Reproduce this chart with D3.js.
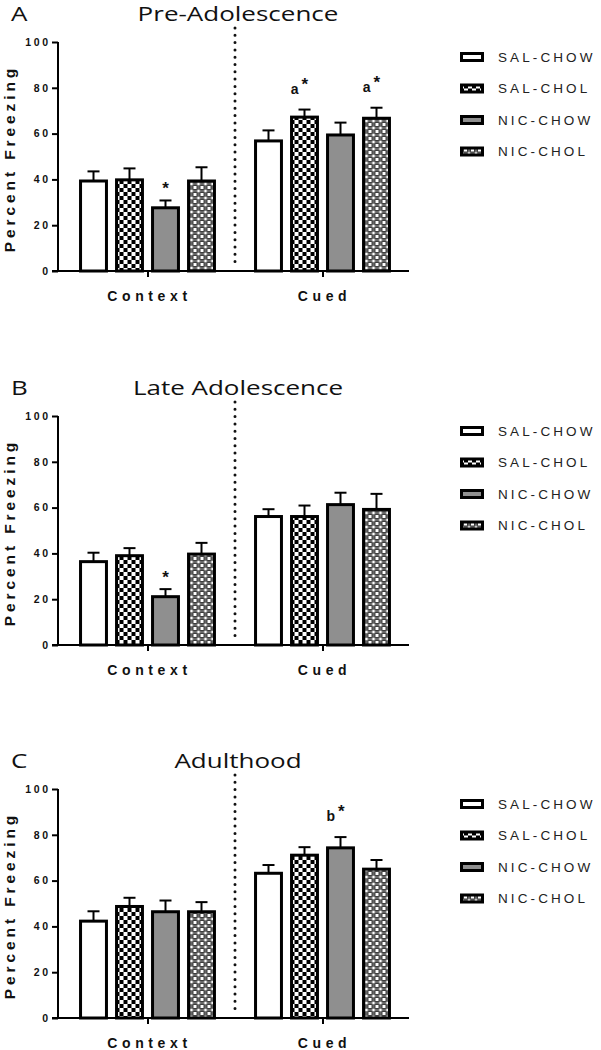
<!DOCTYPE html>
<html><head><meta charset="utf-8">
<script src="https://cdn.jsdelivr.net/npm/d3@7"></script>
<style>body{margin:0;background:#fff}svg{display:block}</style>
</head><body>
<script>
// ---- data ----
const categories = ["Context", "Cued"];
const seriesNames = ["SAL-CHOW", "SAL-CHOL", "NIC-CHOW", "NIC-CHOL"];
const yTicks = [0, 20, 40, 60, 80, 100];
const panelLetters = ["A", "B", "C"];
const panelTitles = ["Pre-Adolescence", "Late Adolescence", "Adulthood"];
// means per panel: [Context x4, Cued x4]
const meansA = [[39.3, 39.8, 27.6, 39.3], [56.8, 67.2, 59.4, 66.7]];
const semA   = [[4.2, 5.0, 3.2, 6.0], [4.6, 3.3, 5.4, 4.6]];
const meansB = [[36.4, 39.0, 21.1, 39.7], [56.1, 56.1, 61.3, 59.2]];
const semB   = [[3.9, 3.3, 3.3, 4.9], [3.2, 4.8, 5.2, 6.8]];
const meansC = [[42.3, 48.7, 46.4, 46.4], [63.2, 71.1, 74.3, 65.0]];
const semC   = [[4.3, 3.8, 4.9, 4.2], [3.6, 3.5, 4.7, 4.0]];
// annotations: [panel index, category, series, label]
const annotations = [
  [0, "Context", "NIC-CHOW", "*"],
  [0, "Cued", "SAL-CHOL", "a*"],
  [0, "Cued", "NIC-CHOL", "a*"],
  [1, "Context", "NIC-CHOW", "*"],
  [2, "Cued", "NIC-CHOW", "b*"]
];
const panelMeans = [meansA, meansB, meansC];
const panelSems = [semA, semB, semC];

// ---- layout ----
const W = 601, H = 1050;
const plotTops = [42, 416, 789];
const plotH = 229;
const axisX0 = 58, axisX1 = 409;

const svg = d3.select("body").append("svg").attr("width", W).attr("height", H);
const defs = svg.append("defs");
// SAL-CHOL: black/white checker
const p1 = defs.append("pattern").attr("id", "chk1").attr("patternUnits", "userSpaceOnUse")
  .attr("width", 8).attr("height", 8);
p1.append("rect").attr("width", 8).attr("height", 8).attr("fill", "#fff");
p1.append("rect").attr("x", 0).attr("y", 0).attr("width", 4).attr("height", 4).attr("fill", "#000");
p1.append("rect").attr("x", 4).attr("y", 4).attr("width", 4).attr("height", 4).attr("fill", "#000");
// NIC-CHOL: finer, lighter checker
const p2 = defs.append("pattern").attr("id", "chk2").attr("patternUnits", "userSpaceOnUse")
  .attr("width", 7).attr("height", 7);
p2.append("rect").attr("width", 7).attr("height", 7).attr("fill", "#111");
p2.append("rect").attr("x", 0.5).attr("y", 0.5).attr("width", 3).attr("height", 3).attr("fill", "#fff");
p2.append("rect").attr("x", 4).attr("y", 4).attr("width", 3).attr("height", 3).attr("fill", "#fff");
p2.append("rect").attr("x", 4).attr("y", 0.5).attr("width", 3).attr("height", 3).attr("fill", "#666");
p2.append("rect").attr("x", 0.5).attr("y", 4).attr("width", 3).attr("height", 3).attr("fill", "#666");

const fills = d3.scaleOrdinal().domain(seriesNames)
  .range(["#ffffff", "url(#chk1)", "#8f8f8f", "url(#chk2)"]);

const x0 = d3.scalePoint().domain(categories).range([60, 410]).padding(0.5);
const x1 = d3.scaleBand().domain(seriesNames).range([-72, 72]).paddingInner(0.28).paddingOuter(0.14);

const axisFont = "'Liberation Sans', Arial, sans-serif";
const titleFont = "'Open Sans', sans-serif";

panelLetters.forEach((letter, pi) => {
  const top = plotTops[pi];
  const y = d3.scaleLinear().domain([0, 100]).range([top + plotH, top]);
  const g = svg.append("g");
  const means = panelMeans[pi], sems = panelSems[pi];

  // titles (horizontally widened like the reference)
  g.append("text").attr("transform", `translate(11,${top - 21}) scale(1.3,1)`).text(letter)
    .attr("font-family", titleFont).attr("font-size", 20).attr("fill", "#111");
  g.append("text").attr("transform", `translate(238,${top - 21}) scale(1.3,1)`)
    .attr("text-anchor", "middle").text(panelTitles[pi])
    .attr("font-family", titleFont).attr("font-size", 20).attr("fill", "#111");

  // dotted separator
  const sepX = (x0(categories[0]) + x0(categories[1])) / 2;
  g.append("line").attr("x1", sepX).attr("x2", sepX).attr("y1", top - 14).attr("y2", top + plotH - 6)
    .attr("stroke", "#111").attr("stroke-width", 3).attr("stroke-linecap", "round")
    .attr("stroke-dasharray", "0 7.3");

  // bars
  categories.forEach((cat, ci) => {
    const data = seriesNames.map((s, si) => ({ s, m: means[ci][si], e: sems[ci][si] }));
    const cg = g.append("g").attr("transform", `translate(${x0(cat)},0)`);
    cg.selectAll("line.err").data(data).join("line")
      .attr("x1", d => x1(d.s) + x1.bandwidth() / 2).attr("x2", d => x1(d.s) + x1.bandwidth() / 2)
      .attr("y1", d => y(d.m)).attr("y2", d => y(d.m + d.e))
      .attr("stroke", "#000").attr("stroke-width", 2);
    cg.selectAll("line.cap").data(data).join("line")
      .attr("x1", d => x1(d.s) + x1.bandwidth() / 2 - 6).attr("x2", d => x1(d.s) + x1.bandwidth() / 2 + 6)
      .attr("y1", d => y(d.m + d.e)).attr("y2", d => y(d.m + d.e))
      .attr("stroke", "#000").attr("stroke-width", 2);
    cg.selectAll("rect").data(data).join("rect")
      .attr("x", d => x1(d.s)).attr("width", x1.bandwidth())
      .attr("y", d => y(d.m)).attr("height", d => y(0) - y(d.m))
      .attr("fill", d => fills(d.s)).attr("stroke", "#000").attr("stroke-width", 3);
  });

  // y axis
  const yAxis = d3.axisLeft(y).tickValues(yTicks).tickSize(6).tickPadding(4);
  const ya = g.append("g").attr("transform", `translate(${axisX0},0)`).call(yAxis);
  ya.select(".domain").attr("stroke-width", 2).attr("d", `M0,${y(100)}V${y(0)}`);
  ya.selectAll(".tick line").attr("stroke-width", 2);
  ya.selectAll(".tick text").attr("font-family", axisFont).attr("font-weight", "bold")
    .attr("font-size", 10.5).attr("letter-spacing", "2.6px").attr("dx", "2.6px").attr("fill", "#111");

  // x axis
  const xa = g.append("g").attr("transform", `translate(0,${y(0)})`)
    .call(d3.axisBottom(x0).tickSize(6).tickFormat(""));
  xa.select(".domain").attr("stroke-width", 2).attr("d", `M${axisX0 - 6},0H${axisX1}`);
  xa.selectAll(".tick line").attr("stroke-width", 2);
  g.selectAll("text.xl").data(categories).join("text")
    .attr("x", d => x0(d) + 2).attr("y", y(0) + 30).attr("text-anchor", "middle").text(d => d)
    .attr("font-family", axisFont).attr("font-weight", "bold").attr("font-size", 14)
    .attr("letter-spacing", "4.6px").attr("fill", "#111");

  // y axis title
  g.append("text").attr("transform", `translate(15,${y(50) + 2}) rotate(-90)`)
    .attr("text-anchor", "middle").text("Percent Freezing")
    .attr("font-family", axisFont).attr("font-weight", "bold").attr("font-size", 15.5)
    .attr("letter-spacing", "3.9px").attr("fill", "#111");

  // annotations
  annotations.filter(a => a[0] === pi).forEach(a => {
    const ci = categories.indexOf(a[1]), si = seriesNames.indexOf(a[2]);
    const cx = x0(a[1]) + x1(a[2]) + x1.bandwidth() / 2;
    const ty = y(means[ci][si] + sems[ci][si]);
    if (a[3] === "*") {
      g.append("text").attr("x", cx).attr("y", ty - 6).attr("text-anchor", "middle").text("*")
        .attr("font-family", axisFont).attr("font-weight", "bold").attr("font-size", 17).attr("fill", "#111");
    } else {
      const t = g.append("text").attr("x", cx - 5).attr("y", ty - 16).attr("text-anchor", "middle")
        .attr("font-family", axisFont).attr("font-weight", "bold").attr("fill", "#111");
      t.append("tspan").attr("font-size", 14).text(a[3][0]);
      t.append("tspan").attr("font-size", 17).attr("dx", 3).attr("dy", -4).text(a[3][1]);
    }
  });

  // legend
  const lg = g.append("g").attr("transform", `translate(460,${top + 15})`);
  seriesNames.forEach((s, si) => {
    const row = lg.append("g").attr("transform", `translate(0,${si * 31.5})`);
    row.append("rect").attr("x", 1.5).attr("y", -3.5).attr("width", 21).attr("height", 7)
      .attr("fill", fills(s)).attr("stroke", "#000").attr("stroke-width", 3);
    row.append("text").attr("x", 38).attr("y", 0).attr("dy", "0.36em").text(s)
      .attr("font-family", axisFont).attr("font-size", 13.5).attr("letter-spacing", "3.1px")
      .attr("fill", "#222");
  });
});
</script>
</body></html>
